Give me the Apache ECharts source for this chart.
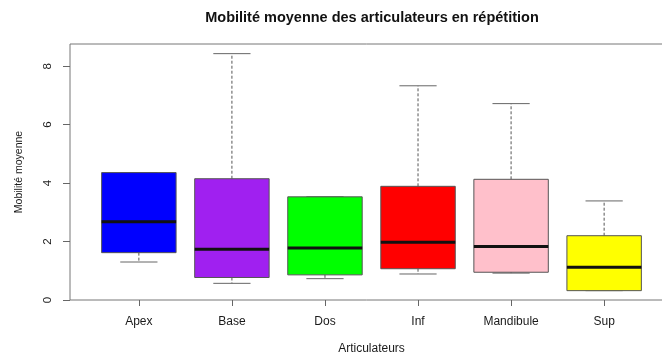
<!DOCTYPE html>
<html>
<head>
<meta charset="utf-8">
<script src="https://cdn.jsdelivr.net/npm/echarts@6/dist/echarts.min.js"></script>
<style>
  html, body { margin: 0; padding: 0; background: #fff; }
  #chart { width: 662px; height: 356px; }
</style>
</head>
<body>
<div id="chart"></div>
<script>
// Five-number summaries of mean articulator mobility, one entry per articulator
const categories = ['Apex', 'Base', 'Dos', 'Inf', 'Mandibule', 'Sup'];
const lowerWhisker  = [1.30, 0.57, 0.73, 0.89, 0.92, 0.32];
const lowerQuartile = [1.62, 0.77, 0.86, 1.07, 0.95, 0.32];
const medians       = [2.68, 1.74, 1.78, 1.98, 1.83, 1.12];
const upperQuartile = [4.36, 4.15, 3.53, 3.89, 4.13, 2.20];
const upperWhisker  = [4.36, 8.43, 3.53, 7.33, 6.72, 3.39];
const yTicks = [0, 2, 4, 6, 8];

const boxColors = ['#0000FF', '#A020F0', '#00FF00', '#FF0000', '#FFC0CB', '#FFFF00'];

const positions = categories.map((_, i) => i + 1);
const seriesData = categories.map((_, i) => [
  positions[i], lowerWhisker[i], lowerQuartile[i], medians[i], upperQuartile[i], upperWhisker[i]
]);

const chart = echarts.init(document.getElementById('chart'), null, { renderer: 'canvas' });

function renderBox(params, api) {
  const x = api.value(0);
  const lo = api.coord([x, api.value(1)]);
  const q1 = api.coord([x, api.value(2)]);
  const md = api.coord([x, api.value(3)]);
  const q3 = api.coord([x, api.value(4)]);
  const hi = api.coord([x, api.value(5)]);
  const w = api.size([1, 0])[0] * 0.8;
  const cx = lo[0];
  const whiskerStyle = { stroke: '#555', lineWidth: 1, lineDash: [3, 2] };
  const capStyle = { stroke: '#666', lineWidth: 1 };
  return {
    type: 'group',
    children: [
      { type: 'line', shape: { x1: cx, y1: q3[1], x2: cx, y2: hi[1] }, style: whiskerStyle },
      { type: 'line', shape: { x1: cx, y1: q1[1], x2: cx, y2: lo[1] }, style: whiskerStyle },
      { type: 'line', shape: { x1: cx - w / 4, y1: hi[1], x2: cx + w / 4, y2: hi[1] }, style: capStyle },
      { type: 'line', shape: { x1: cx - w / 4, y1: lo[1], x2: cx + w / 4, y2: lo[1] }, style: capStyle },
      {
        type: 'rect',
        shape: { x: cx - w / 2, y: q3[1], width: w, height: q1[1] - q3[1] },
        style: { fill: boxColors[params.dataIndex], stroke: '#555', lineWidth: 1 }
      },
      {
        type: 'line',
        shape: { x1: cx - w / 2, y1: md[1], x2: cx + w / 2, y2: md[1] },
        style: { stroke: '#111', lineWidth: 3 }
      }
    ]
  };
}

chart.setOption({
  animation: false,
  backgroundColor: '#fff',
  textStyle: { fontFamily: 'Liberation Sans, Arial, sans-serif' },
  graphic: [{
    type: 'text',
    x: 372,
    y: 10,
    style: {
      text: 'Mobilité moyenne des articulateurs en répétition',
      font: 'bold 14.5px "Liberation Sans", Arial, sans-serif',
      fill: '#111',
      textAlign: 'center',
      textVerticalAlign: 'top'
    }
  }],
  grid: {
    left: 70,
    top: 44,
    width: 603,
    height: 256,
    outerBoundsMode: 'none',
    containLabel: false,
    show: true,
    borderColor: '#777',
    borderWidth: 1
  },
  xAxis: {
    type: 'value',
    min: 0.26,
    max: 6.74,
    name: 'Articulateurs',
    nameLocation: 'middle',
    nameGap: 43,
    nameTextStyle: { fontSize: 12, color: '#1a1a1a' },
    axisLine: { show: false },
    splitLine: { show: false },
    axisTick: { show: true, length: 6, customValues: positions, lineStyle: { color: '#666' } },
    axisLabel: {
      customValues: positions,
      margin: 16,
      fontSize: 12,
      color: '#1a1a1a',
      formatter: v => categories[Math.round(v) - 1] || ''
    }
  },
  yAxis: {
    type: 'value',
    min: 0,
    max: 8.76,
    name: 'Mobilité moyenne',
    nameLocation: 'middle',
    nameRotate: 90,
    nameGap: 45,
    nameTextStyle: { fontSize: 10.5, color: '#1a1a1a' },
    axisLine: { show: false },
    splitLine: { show: false },
    axisTick: { show: true, length: 7, customValues: yTicks, lineStyle: { color: '#666' } },
    axisLabel: {
      customValues: yTicks,
      rotate: 90,
      margin: 16,
      fontSize: 11.5,
      color: '#1a1a1a'
    }
  },
  series: [{
    type: 'custom',
    renderItem: renderBox,
    encode: { x: 0, y: [1, 2, 3, 4, 5] },
    data: seriesData,
    clip: false
  }]
});
</script>
</body>
</html>
